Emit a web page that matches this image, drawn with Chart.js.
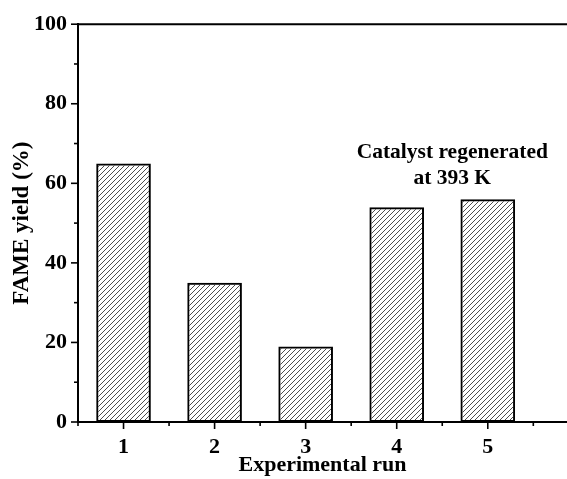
<!DOCTYPE html>
<html lang="en">
<head>
  <meta charset="UTF-8" />
  <title>FAME yield by run</title>
  <script src="https://cdn.jsdelivr.net/npm/chart.js"></script>
  <style>
    body { margin: 0; background: #fff; }
    #wrap { width: 567px; height: 479px; }
  </style>
</head>
<body>
  <div id="wrap"><canvas id="chart"></canvas></div>

  <script>
    // data
    const runs = [1, 2, 3, 4, 5];
    const fameYield = [65, 35, 19, 54, 56];
    const yLabelEvery = 20;
    const noteLines = ["Catalyst regenerated", "at 393 K"];
    const noteAnchor = { x: 4.61, y: [67.8, 61.3] };

    const serif = "'Liberation Serif', 'Times New Roman', serif";

    // diagonal hatch fill
    function hatch() {
      const c = document.createElement("canvas");
      c.width = 5; c.height = 5;
      const g = c.getContext("2d");
      g.strokeStyle = "#3a3a3a";
      g.lineWidth = 0.9;
      g.beginPath();
      g.moveTo(-1, 6); g.lineTo(6, -1);
      g.moveTo(-1, 1); g.lineTo(1, -1);
      g.moveTo(4, 6); g.lineTo(6, 4);
      g.stroke();
      return g.createPattern(c, "repeat");
    }

    // top frame line, tick marks and the note
    const axisDeco = {
      id: "axisDeco",
      afterDraw(chart) {
        const ctx = chart.ctx, a = chart.chartArea;
        const xs = chart.scales.x, ys = chart.scales.y;
        ctx.save();
        ctx.strokeStyle = "#000";
        ctx.lineWidth = 2;
        ctx.beginPath();
        ctx.moveTo(a.left, a.top);
        ctx.lineTo(a.right, a.top);
        ctx.stroke();

        ctx.lineWidth = 1.6;
        ys.ticks.forEach(t => {
          const p = ys.getPixelForValue(t.value);
          const len = t.value % yLabelEvery === 0 ? 7 : 4;
          ctx.beginPath();
          ctx.moveTo(a.left - len, p);
          ctx.lineTo(a.left, p);
          ctx.stroke();
        });
        xs.ticks.forEach(t => {
          const p = xs.getPixelForValue(t.value);
          const len = Number.isInteger(t.value) ? 7 : 4;
          ctx.beginPath();
          ctx.moveTo(p, a.bottom);
          ctx.lineTo(p, a.bottom + len);
          ctx.stroke();
        });

        ctx.fillStyle = "#000";
        ctx.font = "bold 21.5px " + serif;
        ctx.textAlign = "center";
        ctx.textBaseline = "middle";
        noteLines.forEach((line, i) => {
          ctx.fillText(line, xs.getPixelForValue(noteAnchor.x), ys.getPixelForValue(noteAnchor.y[i]));
        });
        ctx.restore();
      }
    };

    const ctx = document.getElementById("chart").getContext("2d");
    new Chart(ctx, {
      type: "bar",
      data: {
        datasets: [{
          data: runs.map((r, i) => ({ x: r, y: fameYield[i] })),
          backgroundColor: hatch(),
          borderColor: "#000",
          borderWidth: 2,
          borderSkipped: false,
          categoryPercentage: 1,
          barPercentage: 1.2
        }]
      },
      options: {
        responsive: true,
        maintainAspectRatio: false,
        animation: false,
        layout: { padding: { top: 23, right: 0, left: 0, bottom: 0 } },
        plugins: { legend: { display: false }, tooltip: { enabled: false } },
        scales: {
          x: {
            type: "linear",
            offset: false,
            min: 0.5,
            max: 5.87,
            afterFit: s => { s.height = 57; },
            grid: { display: false, drawTicks: false },
            border: { display: true, color: "#000", width: 2 },
            ticks: {
              stepSize: 0.5,
              includeBounds: false,
              autoSkip: false,
              maxRotation: 0,
              padding: 12,
              color: "#000",
              font: { family: serif, size: 22, weight: "bold" },
              callback: v => Number.isInteger(v) ? v : ""
            },
            title: {
              display: true,
              text: "Experimental run",
              color: "#000",
              padding: { top: 0, bottom: 0 },
              font: { family: serif, size: 22, weight: "bold" }
            }
          },
          y: {
            min: 0,
            max: 100,
            afterFit: s => { s.width = 78; },
            grid: { display: false, drawTicks: false },
            border: { display: true, color: "#000", width: 2 },
            ticks: {
              stepSize: 10,
              autoSkip: false,
              padding: 11,
              color: "#000",
              font: { family: serif, size: 22, weight: "bold" },
              callback: v => v % yLabelEvery === 0 ? v : ""
            },
            title: {
              display: true,
              text: "FAME yield (%)",
              color: "#000",
              padding: { top: 8, bottom: 0 },
              font: { family: serif, size: 23, weight: "bold" }
            }
          }
        }
      },
      plugins: [axisDeco]
    });
  </script>
</body>
</html>
